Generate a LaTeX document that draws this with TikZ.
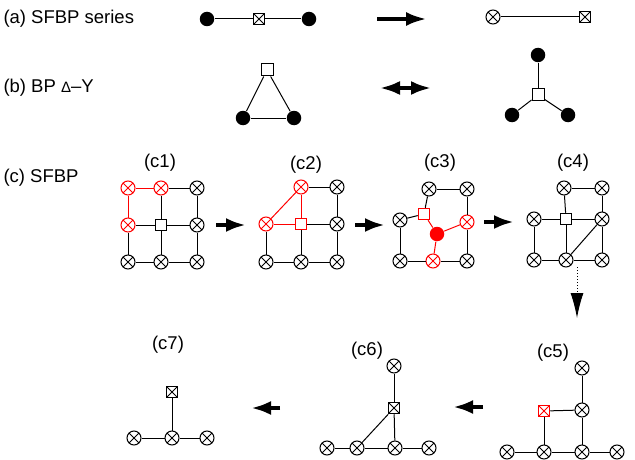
\documentclass[tikz,border=0pt]{standalone}
\usepackage{fontspec}
\setmainfont{Liberation Sans}
\usetikzlibrary{arrows.meta}

\begin{document}
\begin{tikzpicture}[x=1pt, y=-1pt, inner sep=0pt, line width=1pt,
      every edge/.style={draw, line width=1pt},
      otim/.style={circle, draw, minimum size=14pt,
        path picture={\draw (path picture bounding box.north west) -- (path picture bounding box.south east)
          (path picture bounding box.north east) -- (path picture bounding box.south west);}},
      boxp/.style={rectangle, draw, minimum size=11.5pt},
      boxc/.style={boxp, path picture={\draw (path picture bounding box.north west) -- (path picture bounding box.south east)
          (path picture bounding box.north east) -- (path picture bounding box.south west);}},
      blob/.style={circle, fill, minimum size=14.5pt},
      tag/.style={font=\fontsize{18.5}{21}\selectfont},
      fat/.style={line width=4.5pt, -{Latex[length=20pt,width=14pt]}}]
      \useasboundingbox (0,0) rectangle (635,460);
      % (a) series
      \node[tag, anchor=west] (t_a) at(3,19) {(a) SFBP series};
      \node[blob] (a_1) at(207,19) {};
      \node[boxc] (a_2) at(259,19) {};
      \node[blob] (a_3) at(309,19) {};
      \path (a_1) edge (a_2);
      \path (a_2) edge (a_3);
      \coordinate (a_from) at(377,19);
      \coordinate (a_to) at(427,19);
      \draw[fat, -{Latex[length=21pt,width=14pt]}] (a_from) -- (a_to);
      \node[otim] (a_4) at(493,17) {};
      \node[boxc] (a_5) at(585,17) {};
      \path (a_4) edge (a_5);
      % (b) delta - Y
      \node[tag, anchor=west] (t_b) at(3,88) {(b) BP {\fontsize{15}{18}\selectfont Δ}–Y};
      \node[boxp, minimum size=12pt] (b_1) at(267,70) {};
      \node[blob] (b_2) at(243,118) {};
      \node[blob] (b_3) at(294,118) {};
      \path (b_1) edge (b_2);
      \path (b_1) edge (b_3);
      \path (b_2) edge (b_3);
      \coordinate (b_from) at(380,88);
      \coordinate (b_to) at(431,88);
      \draw[line width=3.5pt, {Latex[length=20pt,width=14pt]}-{Latex[length=20pt,width=14pt]}] (b_from) -- (b_to);
      \node[blob] (b_4) at(538,55) {};
      \node[boxp, minimum size=12pt] (b_5) at(538,95) {};
      \node[blob] (b_6) at(512,115) {};
      \node[blob] (b_7) at(568,115) {};
      \path (b_4) edge (b_5);
      \path (b_5) edge (b_6);
      \path (b_5) edge (b_7);
      % (c) c1
      \node[tag, anchor=west] (t_c) at(3,178) {(c) SFBP};
      \node[tag] (t_c1) at(160,163) {(c1)};
      \node[otim, red] (c1_tl) at(128,188) {};
      \node[otim, red] (c1_tm) at(161,188) {};
      \node[otim] (c1_tr) at(197,188) {};
      \node[otim, red] (c1_ml) at(128,225) {};
      \node[boxp] (c1_c) at(161,225) {};
      \node[otim] (c1_mr) at(197,225) {};
      \node[otim] (c1_bl) at(128,262) {};
      \node[otim] (c1_bm) at(161,262) {};
      \node[otim] (c1_br) at(197,262) {};
      \path (c1_tl) edge[red] (c1_tm);
      \path (c1_tl) edge[red] (c1_ml);
      \path (c1_tm) edge (c1_tr);
      \path (c1_tm) edge (c1_c);
      \path (c1_ml) edge (c1_c);
      \path (c1_c) edge (c1_mr);
      \path (c1_c) edge (c1_bm);
      \path (c1_tr) edge (c1_mr);
      \path (c1_mr) edge (c1_br);
      \path (c1_ml) edge (c1_bl);
      \path (c1_bl) edge (c1_bm);
      \path (c1_bm) edge (c1_br);
      \coordinate (c12_from) at(216,225);
      \coordinate (c12_to) at(246,225);
      \draw[fat] (c12_from) -- (c12_to);
      % c2
      \node[tag] (t_c2) at(306,165) {(c2)};
      \node[otim, red] (c2_tm) at(301,187) {};
      \node[otim] (c2_tr) at(337,187) {};
      \node[otim, red] (c2_ml) at(266,224) {};
      \node[boxp, red] (c2_c) at(301,224) {};
      \node[otim] (c2_mr) at(337,224) {};
      \node[otim] (c2_bl) at(266,262) {};
      \node[otim] (c2_bm) at(301,262) {};
      \node[otim] (c2_br) at(337,262) {};
      \path (c2_ml) edge[red] (c2_tm);
      \path (c2_tm) edge[red] (c2_c);
      \path (c2_ml) edge[red] (c2_c);
      \path (c2_tm) edge (c2_tr);
      \path (c2_c) edge (c2_mr);
      \path (c2_c) edge (c2_bm);
      \path (c2_tr) edge (c2_mr);
      \path (c2_mr) edge (c2_br);
      \path (c2_ml) edge (c2_bl);
      \path (c2_bl) edge (c2_bm);
      \path (c2_bm) edge (c2_br);
      \coordinate (c23_from) at(355,225);
      \coordinate (c23_to) at(385,225);
      \draw[fat] (c23_from) -- (c23_to);
      % c3
      \node[tag] (t_c3) at(440,163) {(c3)};
      \node[otim] (c3_tm) at(429,189) {};
      \node[otim] (c3_tr) at(467,189) {};
      \node[boxp, red] (c3_sq) at(424,214) {};
      \node[otim] (c3_l) at(400,220) {};
      \node[blob, red] (c3_y) at(437,234) {};
      \node[otim, red] (c3_r) at(467,222) {};
      \node[otim] (c3_bl) at(400,261) {};
      \node[otim, red] (c3_bm) at(433,261) {};
      \node[otim] (c3_br) at(467,261) {};
      \path (c3_tm) edge (c3_tr);
      \path (c3_tm) edge (c3_sq);
      \path (c3_l) edge (c3_sq);
      \path (c3_sq) edge[red] (c3_y);
      \path (c3_y) edge[red] (c3_r);
      \path (c3_y) edge[red] (c3_bm);
      \path (c3_tr) edge (c3_r);
      \path (c3_r) edge (c3_br);
      \path (c3_l) edge (c3_bl);
      \path (c3_bl) edge (c3_bm);
      \path (c3_bm) edge (c3_br);
      \coordinate (c34_from) at(484,222);
      \coordinate (c34_to) at(514,222);
      \draw[fat] (c34_from) -- (c34_to);
      % c4
      \node[tag] (t_c4) at(573,163) {(c4)};
      \node[otim] (c4_tl) at(564,188) {};
      \node[otim] (c4_tr) at(602,188) {};
      \node[otim] (c4_l) at(534,219) {};
      \node[boxp] (c4_c) at(566,219) {};
      \node[otim] (c4_r) at(602,219) {};
      \node[otim] (c4_bl) at(534,260) {};
      \node[otim] (c4_bm) at(566,260) {};
      \node[otim] (c4_br) at(602,260) {};
      \path (c4_tl) edge (c4_tr);
      \path (c4_tl) edge (c4_c);
      \path (c4_l) edge (c4_c);
      \path (c4_c) edge (c4_r);
      \path (c4_tr) edge (c4_r);
      \path (c4_l) edge (c4_bl);
      \path (c4_bl) edge (c4_bm);
      \path (c4_c) edge (c4_bm);
      \path (c4_bm) edge (c4_r);
      \path (c4_bm) edge (c4_br);
      \path (c4_r) edge (c4_br);
      \coordinate (c45_from) at(577,267);
      \coordinate (c45_to) at(577,318);
      \draw[dotted, line width=1pt, -{Latex[length=25pt,width=13pt]}] (c45_from) -- (c45_to);
      % c5
      \node[tag] (t_c5) at(553,353) {(c5)};
      \node[otim] (c5_t) at(582,368) {};
      \node[boxc, red] (c5_sq) at(544,411) {};
      \node[otim] (c5_m) at(582,410) {};
      \node[otim] (c5_b1) at(507,452) {};
      \node[otim] (c5_b2) at(544,452) {};
      \node[otim] (c5_b3) at(582,452) {};
      \node[otim] (c5_b4) at(617,452) {};
      \path (c5_t) edge (c5_m);
      \path (c5_sq) edge (c5_m);
      \path (c5_sq) edge (c5_b2);
      \path (c5_m) edge (c5_b3);
      \path (c5_b1) edge (c5_b2);
      \path (c5_b2) edge (c5_b3);
      \path (c5_b3) edge (c5_b4);
      \coordinate (c56_from) at(483,407);
      \coordinate (c56_to) at(453,407);
      \draw[fat] (c56_from) -- (c56_to);
      % c6
      \node[tag] (t_c6) at(367,351) {(c6)};
      \node[otim] (c6_t) at(394,366) {};
      \node[boxc] (c6_sq) at(394,408) {};
      \node[otim] (c6_b1) at(327,448) {};
      \node[otim] (c6_b2) at(357,448) {};
      \node[otim] (c6_b3) at(395,448) {};
      \node[otim] (c6_b4) at(429,448) {};
      \path (c6_t) edge (c6_sq);
      \path (c6_sq) edge (c6_b2);
      \path (c6_sq) edge (c6_b3);
      \path (c6_b1) edge (c6_b2);
      \path (c6_b2) edge (c6_b3);
      \path (c6_b3) edge (c6_b4);
      \coordinate (c67_from) at(280,408);
      \coordinate (c67_to) at(251,408);
      \draw[fat] (c67_from) -- (c67_to);
      % c7
      \node[tag] (t_c7) at(168,345) {(c7)};
      \node[boxc] (c7_sq) at(172,392) {};
      \node[otim] (c7_b1) at(134,438) {};
      \node[otim] (c7_b2) at(172,438) {};
      \node[otim] (c7_b3) at(207,438) {};
      \path (c7_sq) edge (c7_b2);
      \path (c7_b1) edge (c7_b2);
      \path (c7_b2) edge (c7_b3);
  \end{tikzpicture}
\end{document}
